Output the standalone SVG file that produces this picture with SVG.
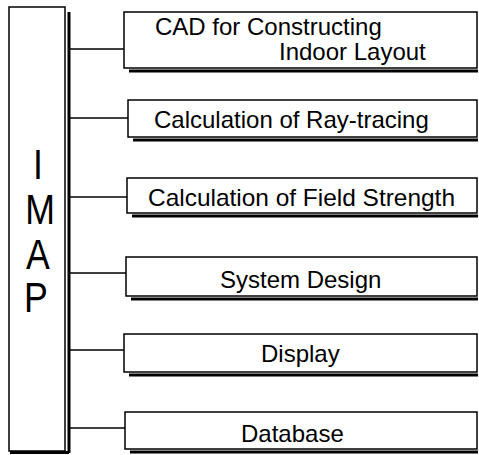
<svg xmlns="http://www.w3.org/2000/svg" width="479" height="455" viewBox="0 0 479 455">
<style>
.box{fill:#fff;stroke:#000;stroke-width:1.5}
.sh{stroke:#000;stroke-width:3;fill:none}
.conn{stroke:#000;stroke-width:1.5;fill:none}
.t{font-family:"Liberation Sans",Arial,sans-serif;font-size:24px;fill:#000}
.big{font-family:"Liberation Sans",Arial,sans-serif;font-size:42px;fill:#000;text-anchor:middle}
</style>
<rect width="479" height="455" fill="#fff"/>
<g id="imap">
<rect class="box" x="9" y="7" width="56" height="444"/>
<line class="sh" x1="69" y1="12" x2="69" y2="453"/>
<line class="sh" x1="10" y1="452.5" x2="69" y2="452.5" stroke-width="2"/>
<text class="big" transform="translate(38,179) scale(0.85,1)">I</text>
<text class="big" transform="translate(40,224) scale(0.85,1)">M</text>
<text class="big" transform="translate(38,269) scale(0.85,1)">A</text>
<text class="big" transform="translate(36,312) scale(0.85,1)">P</text>
</g>
<g id="connectors">
<line class="conn" x1="70" y1="49" x2="124" y2="49"/>
<line class="conn" x1="70" y1="118" x2="128" y2="118"/>
<line class="conn" x1="70" y1="197" x2="127" y2="197"/>
<line class="conn" x1="70" y1="273" x2="126" y2="273"/>
<line class="conn" x1="70" y1="350" x2="124" y2="350"/>
<line class="conn" x1="70" y1="428" x2="125" y2="428"/>
</g>
<g id="n1">
<line class="sh" x1="129" y1="71" x2="478" y2="71"/>
<rect class="box" x="124" y="12" width="353" height="56"/>
<text class="t" x="155" y="35">CAD for Constructing</text>
<text class="t" x="279" y="60">Indoor Layout</text>
</g>
<g id="n2">
<line class="sh" x1="133" y1="140" x2="478" y2="140"/>
<rect class="box" x="128" y="100" width="349" height="37"/>
<text class="t" x="154" y="128">Calculation of Ray-tracing</text>
</g>
<g id="n3">
<line class="sh" x1="132" y1="216" x2="478" y2="216"/>
<rect class="box" x="127" y="178" width="350" height="35"/>
<text class="t" x="148" y="206" textLength="307" lengthAdjust="spacingAndGlyphs">Calculation of Field Strength</text>
</g>
<g id="n4">
<line class="sh" x1="131" y1="299" x2="478" y2="299"/>
<rect class="box" x="126" y="257" width="351" height="39"/>
<text class="t" x="220" y="288">System Design</text>
</g>
<g id="n5">
<line class="sh" x1="129" y1="375" x2="478" y2="375"/>
<rect class="box" x="124" y="334" width="353" height="38"/>
<text class="t" x="261" y="362">Display</text>
</g>
<g id="n6">
<line class="sh" x1="130" y1="452" x2="478" y2="452"/>
<rect class="box" x="125" y="412" width="352" height="37"/>
<text class="t" x="241" y="442">Database</text>
</g>
</svg>
